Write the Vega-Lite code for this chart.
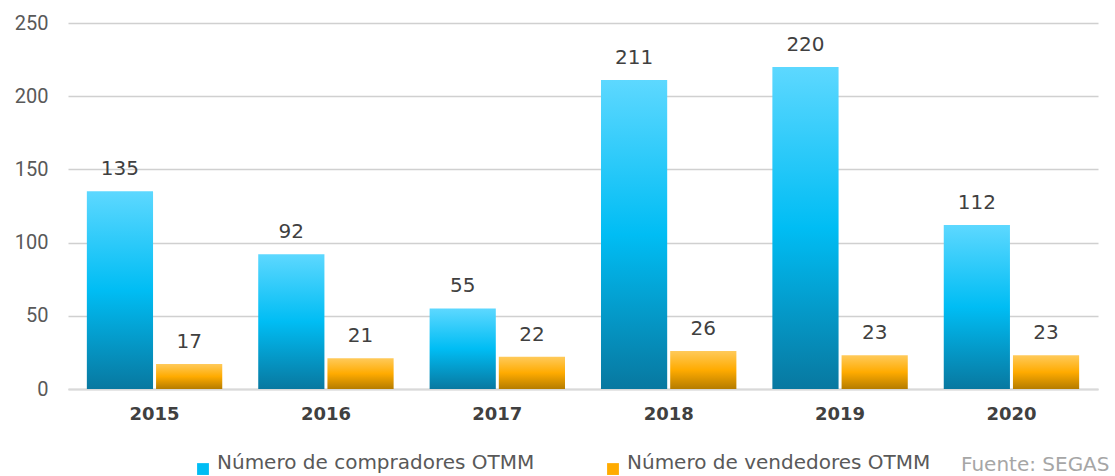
{
  "$schema": "https://vega.github.io/schema/vega-lite/v6.json",
  "width": 1030,
  "height": 366,
  "autosize": {"type": "none"},
  "padding": {"left": 68, "top": 23, "right": 17, "bottom": 87},
  "background": "white",
  "config": {"view": {"stroke": null}, "font": "DejaVu Sans"},
  "data": {
    "values": [
      {"year": "2015", "serie": "Número de compradores OTMM", "value": 135},
      {"year": "2015", "serie": "Número de vendedores OTMM", "value": 17},
      {"year": "2016", "serie": "Número de compradores OTMM", "value": 92},
      {"year": "2016", "serie": "Número de vendedores OTMM", "value": 21},
      {"year": "2017", "serie": "Número de compradores OTMM", "value": 55},
      {"year": "2017", "serie": "Número de vendedores OTMM", "value": 22},
      {"year": "2018", "serie": "Número de compradores OTMM", "value": 211},
      {"year": "2018", "serie": "Número de vendedores OTMM", "value": 26},
      {"year": "2019", "serie": "Número de compradores OTMM", "value": 220},
      {"year": "2019", "serie": "Número de vendedores OTMM", "value": 23},
      {"year": "2020", "serie": "Número de compradores OTMM", "value": 112},
      {"year": "2020", "serie": "Número de vendedores OTMM", "value": 23}
    ]
  },
  "encoding": {
    "x": {
      "field": "year",
      "type": "nominal",
      "scale": {"paddingInner": 0.21, "paddingOuter": 0.11},
      "axis": {
        "labelAngle": 0,
        "labelFont": "DejaVu Sans",
        "labelFontSize": 18,
        "labelFontWeight": "bold",
        "labelColor": "#404040",
        "labelPadding": 16,
        "ticks": false,
        "domainColor": "#d9d9d9",
        "domainWidth": 2,
        "title": "Fuente: SEGAS",
        "titleFont": "DejaVu Sans",
        "titleFontSize": 20,
        "titleFontWeight": "normal",
        "titleColor": "#a6a6a6",
        "titleAnchor": "end",
        "titleAlign": "right",
        "titleBaseline": "alphabetic",
        "titleX": 1041,
        "titleY": 81
      }
    },
    "xOffset": {
      "field": "serie",
      "type": "nominal",
      "sort": ["Número de compradores OTMM", "Número de vendedores OTMM"],
      "scale": {"paddingInner": 0.0435, "paddingOuter": 0}
    },
    "y": {
      "field": "value",
      "type": "quantitative",
      "scale": {"domain": [0, 250]},
      "axis": {
        "values": [0, 50, 100, 150, 200, 250],
        "title": null,
        "domain": false,
        "ticks": false,
        "labelFont": "Roboto",
        "labelFontSize": 20,
        "labelColor": "#595959",
        "labelPadding": 20,
        "gridColor": "#d0d0d0",
        "gridWidth": 1.5
      }
    }
  },
  "layer": [
    {
      "mark": {
        "type": "bar",
        "fill": {"expr": "datum.serie === 'Número de compradores OTMM' ? {gradient: 'linear', x1: 0, y1: 0, x2: 0, y2: 1, stops: [{offset: 0, color: '#5dd8ff'}, {offset: 0.5, color: '#00bdf4'}, {offset: 1, color: '#0878a0'}]} : {gradient: 'linear', x1: 0, y1: 0, x2: 0, y2: 1, stops: [{offset: 0, color: '#ffca5a'}, {offset: 0.5, color: '#ffab00'}, {offset: 1, color: '#b57c00'}]}"}
      },
      "encoding": {
        "color": {
          "field": "serie",
          "type": "nominal",
          "scale": {
            "domain": ["Número de compradores OTMM", "Número de vendedores OTMM"],
            "range": ["#00bdf4", "#ffab00"]
          },
          "legend": {
            "title": null,
            "orient": "none",
            "direction": "horizontal",
            "legendX": 125,
            "legendY": 436,
            "padding": 0,
            "symbolType": "square",
            "symbolSize": 140,
            "symbolStrokeWidth": 0,
            "symbolOpacity": 1,
            "labelFont": "DejaVu Sans",
            "labelFontSize": 20,
            "labelColor": "#595959",
            "labelOffset": 4,
            "labelBaseline": "alphabetic",
            "labelLimit": 0,
            "columnPadding": 68,
            "encode": {
              "symbols": {
                "update": {
                  "fill": {"signal": "datum.value === 'Número de compradores OTMM' ? {gradient: 'linear', x1: 0, y1: 0, x2: 0, y2: 1, stops: [{offset: 0, color: '#5dd8ff'}, {offset: 0.5, color: '#00bdf4'}, {offset: 1, color: '#0878a0'}]} : {gradient: 'linear', x1: 0, y1: 0, x2: 0, y2: 1, stops: [{offset: 0, color: '#ffca5a'}, {offset: 0.5, color: '#ffab00'}, {offset: 1, color: '#b57c00'}]}"}
                }
              }
            }
          }
        }
      }
    },
    {
      "mark": {"type": "text", "dy": -16, "baseline": "alphabetic", "fontSize": 20, "color": "#404040", "font": "DejaVu Sans"},
      "encoding": {"text": {"field": "value", "type": "quantitative"}}
    }
  ]
}
